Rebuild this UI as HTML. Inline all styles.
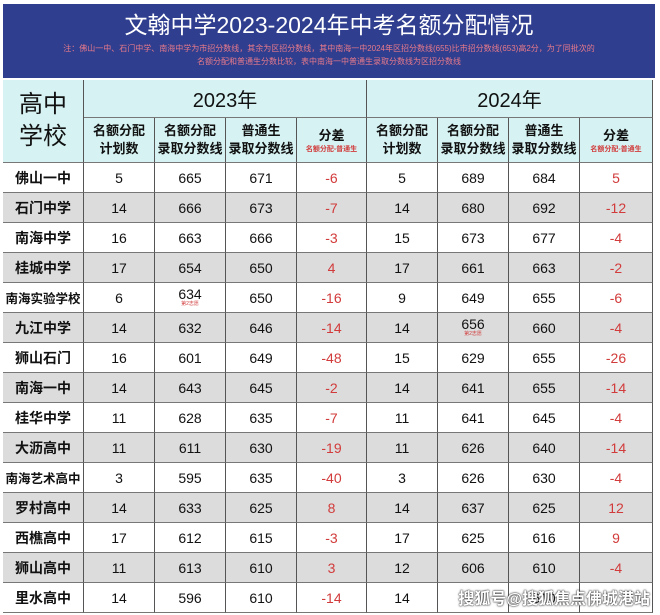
<!DOCTYPE html>
<html><head><meta charset="utf-8"><style>
body{margin:0;background:#fff;width:660px;height:615px;overflow:hidden;font-family:"Liberation Sans","Noto Sans CJK SC",sans-serif;position:relative}
.hdr{position:absolute;left:3px;top:4px;width:652px;height:74px;background:#2f3e8f;text-align:center}
.t{color:#fff;font-size:23px;margin-top:6px;line-height:30px}
.n{color:#e87a8a;font-size:8px;line-height:13px;margin-top:2px}
.c{position:absolute;box-sizing:border-box;border-right:1px solid #555;border-bottom:1px solid #777;display:flex;align-items:center;justify-content:center;text-align:center;color:#111;white-space:nowrap}
.cy{background:#d6f2f2}
.r{color:#d23b3b}
.sm{font-size:5px;color:#d23b3b;display:block;line-height:6px}
.wm{position:absolute;right:10px;bottom:6px;color:#fff;font-size:16px;font-weight:bold;text-shadow:0 0 2px #333,0 0 1px #000}
</style></head><body>
<div class="hdr"><div class="t">文翰中学2023-2024年中考名额分配情况</div>
<div class="n">注：佛山一中、石门中学、南海中学为市招分数线，其余为区招分数线，其中南海一中2024年区招分数线(655)比市招分数线(653)高2分，为了同批次的<br>名额分配和普通生分数比较，表中南海一中普通生录取分数线为区招分数线</div></div>
<div id="t"></div>
<div class="wm">搜狐号@搜狐焦点佛城港站</div>
<script>
var X=[3,84,155,226,297,367,438,509,580,653];
var h='';
function cell(x0,x1,y,hgt,cls,html,fs){h+='<div class="c '+cls+'" style="left:'+x0+'px;top:'+y+'px;width:'+(x1-x0)+'px;height:'+hgt+'px;font-size:'+fs+'px">'+html+'</div>';}
cell(X[0],X[1],80,83,'cy','<div style="line-height:32px">高中<br>学校</div>',24);
cell(X[1],X[5],80,38,'cy','2023年',20);
cell(X[5],X[9],80,38,'cy','2024年',20);
var sh=['名额分配<br>计划数','名额分配<br>录取分数线','普通生<br>录取分数线','分差<span class="sm" style="font-size:7px;line-height:9px">名额分配-普通生</span>'];
for(var i=0;i<8;i++)cell(X[i+1],X[i+2],118,45,'cy','<div style="font-weight:bold;line-height:18px">'+sh[i%4]+'</div>',13);
var D=[["佛山一中",5,665,671,-6,5,689,684,5],["石门中学",14,666,673,-7,14,680,692,-12],["南海中学",16,663,666,-3,15,673,677,-4],["桂城中学",17,654,650,4,17,661,663,-2],["南海实验学校",6,"634*",650,-16,9,649,655,-6],["九江中学",14,632,646,-14,14,"656*",660,-4],["狮山石门",16,601,649,-48,15,629,655,-26],["南海一中",14,643,645,-2,14,641,655,-14],["桂华中学",11,628,635,-7,11,641,645,-4],["大沥高中",11,611,630,-19,11,626,640,-14],["南海艺术高中",3,595,635,-40,3,626,630,-4],["罗村高中",14,633,625,8,14,637,625,12],["西樵高中",17,612,615,-3,17,625,616,9],["狮山高中",11,613,610,3,12,606,610,-4],["里水高中",14,596,610,-14,14,"",610,""]];
for(var r=0;r<D.length;r++){var y=163+r*30,bg=r%2?'background:#dcdcdc':'background:#fff';
for(var j=0;j<9;j++){var v=String(D[r][j]);var cls=(j==4||j==8)?'r':'';
if(v.indexOf('*')>0)v='<div style="line-height:13px">'+v.replace('*','')+'<span class="sm">第2志愿</span></div>';
var fs=j==0?(v.length>4?12.5:14):14;
h+='<div class="c '+cls+'" style="'+bg+';left:'+X[j]+'px;top:'+y+'px;width:'+(X[j+1]-X[j])+'px;height:30px;font-size:'+fs+'px;'+(j==0?'font-weight:bold;':'')+'">'+v+'</div>';}}
document.getElementById('t').innerHTML=h;
</script>
</body></html>
